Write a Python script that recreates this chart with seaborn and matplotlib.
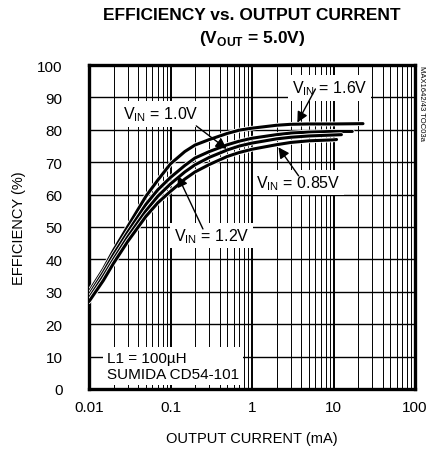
import numpy as np
import pandas as pd
import seaborn as sns
import matplotlib
matplotlib.use('Agg')
import matplotlib.pyplot as plt
import matplotlib.patheffects as pe
from matplotlib.ticker import LogLocator, FixedLocator, FixedFormatter, NullFormatter

# values
vin_labels = ['1.6V', '1.2V', '1.0V', '0.85V']
current_16 = [0.01, 0.015, 0.02, 0.03, 0.05, 0.07, 0.1, 0.15, 0.2, 0.3, 0.5, 0.7, 1, 2, 3, 5, 10, 23]
eff_16 = [30, 37, 42.8, 50.2, 59.5, 64.5, 69.5, 73.3, 75.3, 77, 78.9, 79.9, 80.5, 81.4, 81.7, 81.8, 81.8, 81.9]
current_12 = [0.01, 0.015, 0.02, 0.03, 0.05, 0.07, 0.1, 0.15, 0.2, 0.3, 0.5, 0.7, 1, 2, 3, 5, 10, 17]
eff_12 = [29, 36, 41.5, 48.5, 57, 61.5, 65.3, 69, 71.3, 73.3, 75.4, 76.5, 77.4, 78.5, 79, 79.3, 79.5, 79.5]
current_10 = [0.01, 0.015, 0.02, 0.03, 0.05, 0.07, 0.1, 0.15, 0.2, 0.3, 0.5, 0.7, 1, 2, 3, 5, 10, 12.5]
eff_10 = [28, 34.8, 40, 47, 55, 59.5, 63.3, 67, 69.2, 71.5, 73.8, 75, 75.9, 77.2, 77.7, 78.1, 78.4, 78.5]
current_085 = [0.01, 0.015, 0.02, 0.03, 0.05, 0.07, 0.1, 0.15, 0.2, 0.3, 0.5, 0.7, 1, 2, 3, 5, 10, 10.9]
eff_085 = [27, 33.5, 38.8, 45.6, 53.3, 57.5, 61, 64.8, 67, 69.3, 71.8, 73, 74, 75.4, 76.1, 76.6, 76.9, 77]

x_ticks = [0.01, 0.1, 1, 10, 100]
x_tick_labels = ['0.01', '0.1', '1', '10', '100']
y_ticks = list(range(0, 101, 10))

frames = []
for lab, cur, eff in zip(vin_labels,
                         [current_16, current_12, current_10, current_085],
                         [eff_16, eff_12, eff_10, eff_085]):
    frames.append(pd.DataFrame({'current': cur, 'eff': eff, 'vin': lab}))
df = pd.concat(frames, ignore_index=True)

sns.set_style('white')
plt.rcParams['font.family'] = ['Liberation Sans', 'DejaVu Sans']
plt.rcParams['mathtext.fontset'] = 'custom'
plt.rcParams['mathtext.rm'] = 'Liberation Sans'
plt.rcParams['mathtext.bf'] = 'Liberation Sans:bold'
for k in ['text.color', 'axes.labelcolor', 'xtick.color', 'ytick.color']:
    plt.rcParams[k] = 'black'

fig = plt.figure(figsize=(4.29, 4.56), dpi=100)
ax = fig.add_axes([89/429, 1-390/456, 326/429, 324/456])

sns.lineplot(data=df, x='current', y='eff', hue='vin', palette=['black']*4,
             legend=False, linewidth=2.2, ax=ax, zorder=3, sort=False)
for ln in ax.lines:
    ln.set_path_effects([pe.Stroke(linewidth=3.4, foreground='white'), pe.Normal()])

ax.set_xscale('log')
ax.set_xlim(0.01, 100)
ax.set_ylim(0, 100)
ax.xaxis.set_major_locator(FixedLocator(x_ticks))
ax.xaxis.set_major_formatter(FixedFormatter(x_tick_labels))
ax.xaxis.set_minor_locator(LogLocator(base=10, subs=np.arange(2, 10)))
ax.xaxis.set_minor_formatter(NullFormatter())
ax.set_yticks(y_ticks)

ax.grid(which='minor', axis='x', color='black', linewidth=0.7)
ax.grid(which='major', axis='x', color='black', linewidth=1.4)
ax.grid(which='major', axis='y', color='black', linewidth=1.0)
ax.set_axisbelow(True)
ax.tick_params(which='both', length=0)
ax.tick_params(axis='y', pad=19, labelsize=11)
ax.tick_params(axis='x', pad=8, labelsize=11)
for sp in ax.spines.values():
    sp.set_linewidth(2.4)
    sp.set_color('black')

ax.set_xlabel('OUTPUT CURRENT (mA)', fontsize=10.5, labelpad=12)
ax.set_ylabel('EFFICIENCY (%)', fontsize=10.5, labelpad=8)

fig.text(252/429, 1-15/456, 'EFFICIENCY vs. OUTPUT CURRENT', ha='center', va='center',
         fontsize=12.5, fontweight='bold')
fig.text(252/429, 1-38/456, r'(V$_{\mathbf{OUT}}$ = 5.0V)', ha='center', va='center',
         fontsize=12.5, fontweight='bold')
fig.text(422/429, 1-66/456, 'MAX1642/43 TOC03a', rotation=-90, ha='center', va='top',
         fontsize=5.5)

box = dict(facecolor='white', edgecolor='none', pad=2.5)
ax.text(9.0, 92.9, r'V$_{\mathrm{IN}}$ = 1.6V', ha='center', va='center', fontsize=11.5, bbox=box, zorder=5)
ax.text(0.0753, 84.9, r'V$_{\mathrm{IN}}$ = 1.0V', ha='center', va='center', fontsize=11.5, bbox=box, zorder=5)
ax.text(3.7, 63.7, r'V$_{\mathrm{IN}}$ = 0.85V', ha='center', va='center', fontsize=11.5, bbox=box, zorder=5)
ax.text(0.32, 47.4, r'V$_{\mathrm{IN}}$ = 1.2V', ha='center', va='center', fontsize=11.5, bbox=box, zorder=5)
ax.text(0.0165, 2.6, 'L1 = 100µH\nSUMIDA CD54-101', ha='left', va='bottom', fontsize=11,
        linespacing=1.15, bbox=dict(facecolor='white', edgecolor='none', pad=3), zorder=5)

arrow = dict(arrowstyle='-|>', color='black', lw=1.0, mutation_scale=16, shrinkA=0, shrinkB=0)
ax.annotate('', xy=(3.6, 82.2), xytext=(6.0, 92.6), arrowprops=arrow, zorder=6)
ax.annotate('', xy=(0.488, 74.1), xytext=(0.207, 81.2), arrowprops=arrow, zorder=6)
ax.annotate('', xy=(0.123, 65.8), xytext=(0.25, 49.4), arrowprops=arrow, zorder=6)
ax.annotate('', xy=(2.11, 74.6), xytext=(3.73, 65.8), arrowprops=arrow, zorder=6)

fig.savefig('out.png', dpi=100)
